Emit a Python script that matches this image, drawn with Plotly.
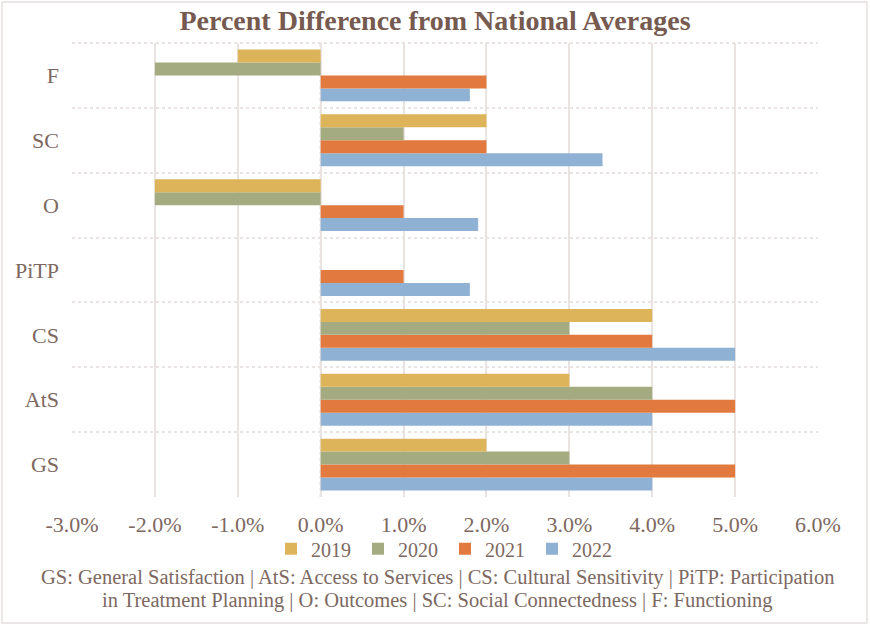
import plotly.graph_objects as go

categories = ["GS", "AtS", "CS", "PiTP", "O", "SC", "F"]
years = ["2019", "2020", "2021", "2022"]
v2019 = [0.02, 0.03, 0.04, None, -0.02, 0.02, -0.01]
v2020 = [0.03, 0.04, 0.03, None, -0.02, 0.01, -0.02]
v2021 = [0.05, 0.05, 0.04, 0.01, 0.01, 0.02, 0.02]
v2022 = [0.04, 0.04, 0.05, 0.018, 0.019, 0.034, 0.018]
series = [v2019, v2020, v2021, v2022]
colors = ["#DDB45A", "#A4AB80", "#E27A3F", "#8FB2D4"]

tick_vals = [-0.03, -0.02, -0.01, 0, 0.01, 0.02, 0.03, 0.04, 0.05, 0.06]
tick_text = ["-3.0%", "-2.0%", "-1.0%", "0.0%", "1.0%", "2.0%", "3.0%", "4.0%", "5.0%", "6.0%"]

foot_lines = ["GS: General Satisfaction | AtS: Access to Services | CS: Cultural Sensitivity | PiTP: Participation",
              "in Treatment Planning | O: Outcomes | SC: Social Connectedness | F: Functioning"]

font_name = "Liberation Serif"
text_col = "#7d6861"
grid_col = "#e9e3e1"

fig = go.Figure()
# added in reverse so 2019 sits on top of each group
for yr, vals, col in reversed(list(zip(years, series, colors))):
    fig.add_trace(go.Bar(y=categories, x=vals, name=yr, orientation="h",
                         marker=dict(color=col, line=dict(width=0))))

fig.update_layout(
    width=870, height=626,
    plot_bgcolor="white", paper_bgcolor="white",
    margin=dict(l=72, r=52, t=43, b=129),
    barmode="group", bargap=0.2, bargroupgap=0,
    hovermode=False,
    font=dict(family=font_name, color=text_col, size=22),
    title=dict(text="<b>Percent Difference from National Averages</b>",
               x=0.5, xanchor="center", y=0.967, yanchor="middle",
               font=dict(size=28, color="#765a50")),
    legend=dict(orientation="h", x=0.5, xanchor="center", y=-0.114, yanchor="middle",
                traceorder="reversed", font=dict(size=20), itemwidth=30,
                entrywidth=42, entrywidthmode="pixels",
                bgcolor="rgba(0,0,0,0)"),
    showlegend=True,
)
fig.update_xaxes(range=[-0.03, 0.06], tickvals=tick_vals, ticktext=tick_text,
                 showgrid=True, gridcolor=grid_col, gridwidth=2,
                 zeroline=False, showline=False, ticks="", ticklabelstandoff=12)
fig.update_yaxes(type="category", tickson="boundaries", showgrid=True,
                 gridcolor=grid_col, gridwidth=2, griddash="dot",
                 showline=False, ticks="", ticklabelstandoff=12)

# top dotted border of plot area
fig.add_shape(type="line", xref="paper", yref="paper", x0=0, x1=1, y0=1, y1=1,
              line=dict(color=grid_col, width=2, dash="dot"))
# dotted zero line: mask the solid grid line, then draw dots
fig.add_shape(type="line", xref="x", yref="paper", x0=0, x1=0, y0=0, y1=1,
              layer="between", line=dict(color="white", width=3))
fig.add_shape(type="line", xref="x", yref="paper", x0=0, x1=0, y0=0, y1=1,
              layer="between", line=dict(color="#d9d1cf", width=2, dash="dot"))

for i, line in enumerate(foot_lines):
    fig.add_annotation(text=line, xref="paper", yref="paper", x=0.49,
                       y=-0.177 - i * 0.0507, xanchor="center", yanchor="middle",
                       showarrow=False, font=dict(size=20.5, color=text_col))

# outer chart border
fig.add_shape(type="rect", xref="paper", yref="paper",
              x0=-0.0938, x1=1.0657, y0=-0.2775, y1=1.0903,
              line=dict(color="#e6e0de", width=1.5))

fig.write_html("out.html", config={"displayModeBar": False},
               post_script="document.body.style.margin='0';")
